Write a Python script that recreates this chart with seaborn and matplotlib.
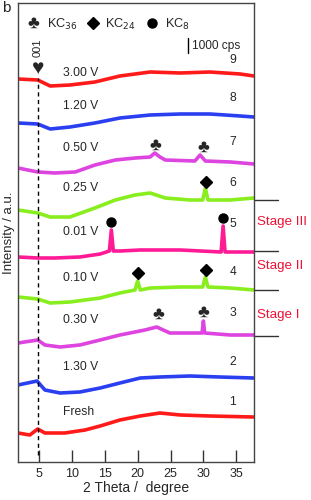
import pandas as pd
import seaborn as sns
import matplotlib.pyplot as plt
import matplotlib.transforms as mtransforms

# XRD patterns, stacked (intensity already offset, a.u.)
curve_ids = ["1", "2", "3", "4", "5", "6", "7", "8", "9"]
curve_labels = ["Fresh", "1.30 V", "0.30 V", "0.10 V", "0.01 V", "0.25 V", "0.50 V", "1.20 V", "3.00 V"]
curve_colors = ["#ff1a1a", "#2a3ff0", "#dd44e0", "#88ee1e", "#ff1a96",
                "#88ee1e", "#dd44e0", "#2a3ff0", "#ff1a1a"]

theta_1 = [1.8, 3.6, 4.8, 5.9, 8.9, 12.0, 14.3, 17.3, 20.4, 23.4, 26.5, 31.0, 37.6]
inten_1 = [29, 27, 33, 29, 29, 32, 36, 42, 46, 49, 47, 46, 45]

theta_2 = [1.8, 4.7, 5.9, 8.2, 11.2, 14.3, 17.3, 20.4, 23.4, 28.0, 32.5, 37.6]
inten_2 = [77, 81, 72, 69, 70, 74, 79, 84, 85, 86, 85, 84]

theta_3 = [1.8, 4.8, 5.9, 8.2, 11.2, 14.3, 17.3, 21.1, 22.9, 24.9, 28.0, 29.8, 30.0, 30.2, 34.1, 37.7]
inten_3 = [119, 122, 117, 115, 117, 122, 127, 132, 135, 129, 129, 129, 141, 129, 127, 127]

theta_4 = [1.8, 4.8, 6.7, 9.7, 14.3, 17.3, 19.6, 20.0, 20.4, 21.9, 26.5, 29.9, 30.3, 30.7, 34.1, 37.7]
inten_4 = [165, 163, 159, 160, 164, 169, 172, 181, 172, 174, 175, 175, 185, 175, 174, 172]

theta_5 = [1.8, 4.8, 7.4, 11.2, 14.3, 15.7, 16.0, 16.3, 17.3, 20.4, 26.5, 32.7, 33.0, 33.3, 35.6, 37.7]
inten_5 = [205, 204, 204, 205, 208, 211, 232, 211, 211, 212, 212, 210, 236, 210, 210, 210]

theta_6 = [1.8, 4.8, 6.7, 9.7, 13.5, 16.6, 19.6, 21.9, 24.2, 28.0, 29.9, 30.3, 30.7, 34.1, 37.7]
inten_6 = [252, 249, 245, 245, 254, 262, 267, 269, 264, 262, 262, 274, 262, 262, 264]

theta_7 = [1.8, 4.8, 7.4, 10.5, 13.5, 16.6, 19.6, 21.9, 22.6, 23.4, 24.2, 28.7, 29.5, 30.3, 34.1, 37.7]
inten_7 = [294, 290, 289, 290, 297, 302, 304, 305, 309, 305, 302, 301, 307, 301, 300, 298]

theta_8 = [1.8, 4.8, 6.7, 9.7, 13.5, 17.3, 21.9, 26.5, 31.0, 35.6, 37.7]
inten_8 = [339, 338, 333, 335, 339, 344, 347, 348, 348, 346, 345]

theta_9 = [1.8, 4.8, 6.7, 9.7, 13.5, 17.3, 21.9, 26.5, 31.0, 35.6, 37.7]
inten_9 = [383, 382, 376, 377, 380, 386, 390, 389, 390, 388, 386]

label_y = [50, 95, 142, 184, 230, 274, 314, 356, 389]
number_y = [60, 100, 149, 190, 238, 279, 320, 364, 402]

# peak markers: (2theta, height)
club_peaks = [(22.7, 317), (30.0, 315), (23.1, 148), (30.0, 150)]
diamond_peaks = [(30.4, 280), (20.1, 189), (30.4, 192)]
circle_peaks = [(16.0, 240), (33.0, 244)]

stage_lines = [262, 211, 172, 126]
stage_names = ["Stage III", "Stage II", "Stage I"]
stage_y = [240, 196, 147]

x_ticks = [5, 10, 15, 20, 25, 30, 35]

thetas = [theta_1, theta_2, theta_3, theta_4, theta_5, theta_6, theta_7, theta_8, theta_9]
intens = [inten_1, inten_2, inten_3, inten_4, inten_5, inten_6, inten_7, inten_8, inten_9]
frames = []
for cid, t, i in zip(curve_ids, thetas, intens):
    frames.append(pd.DataFrame({"theta": t, "intensity": i, "curve": cid}))
df = pd.concat(frames, ignore_index=True)

sns.set_style("ticks")
plt.rcParams["font.family"] = ["Liberation Sans", "DejaVu Sans"]

fig = plt.figure(figsize=(3.11, 5.0), dpi=100)
ax = fig.add_axes([18 / 311, 38 / 500, 236 / 311, 459 / 500])

sns.lineplot(data=df, x="theta", y="intensity", hue="curve",
             palette=dict(zip(curve_ids, curve_colors)), lw=2.6,
             legend=False, ax=ax, estimator=None, sort=False)

ax.set_xlim(1.8, 37.7)
ax.set_ylim(0, 459)
ax.set_xticks(x_ticks)
ax.set_yticks([])
ax.tick_params(axis="x", direction="in", length=9, width=1, color="#333333",
               labelsize=9, pad=4)
for sp in ax.spines.values():
    sp.set_color("#444444")
    sp.set_linewidth(1)
ax.set_xlabel("2 Theta /  degree", fontsize=10, labelpad=1)
ax.set_ylabel("Intensity / a.u.", fontsize=9.5, labelpad=2)

# dashed 001 line
ax.plot([4.9, 4.9], [7, 384], ls=(0, (3, 2.5)), color="black", lw=1)
ax.text(4.85, 394, "\u2665", fontsize=15, ha="center", va="center")
ax.text(4.85, 414, "001", fontsize=8, rotation=90, ha="center", va="center")

for lab, y in zip(curve_labels, label_y):
    ax.text(8.6, y, lab, fontsize=8.7, ha="left", va="center")
for num, y in zip(curve_ids, number_y):
    ax.text(34.5, y, num, fontsize=8.7, ha="center", va="center")

for x, y in club_peaks:
    ax.text(x, y, "\u2663", fontsize=13, ha="center", va="center")
ax.plot([p[0] for p in diamond_peaks], [p[1] for p in diamond_peaks],
        ls="none", marker="D", ms=6.5, color="black")
ax.plot([p[0] for p in circle_peaks], [p[1] for p in circle_peaks],
        ls="none", marker="o", ms=6.5, color="black")

# legend row
ax.text(4.1, 439, "\u2663", fontsize=13, ha="center", va="center")
ax.text(6.2, 438, "KC$_{36}$", fontsize=9.2, ha="left", va="center")
ax.plot([13.2], [439], ls="none", marker="D", ms=6.5, color="black")
ax.text(15.0, 438, "KC$_{24}$", fontsize=9.2, ha="left", va="center")
ax.plot([22.2], [439], ls="none", marker="o", ms=6.5, color="black")
ax.text(24.2, 438, "KC$_{8}$", fontsize=9.2, ha="left", va="center")

# scale bar
ax.plot([27.7, 27.7], [409, 424], color="black", lw=1)
ax.text(28.3, 416, "1000 cps", fontsize=8.6, ha="left", va="center")

# stage markers outside right edge
trans = mtransforms.blended_transform_factory(ax.transAxes, ax.transData)
for y in stage_lines:
    ax.plot([1.0, 1.1], [y, y], color="#333333", lw=1, transform=trans, clip_on=False)
for name, y in zip(stage_names, stage_y):
    ax.text(1.013, y, name, color="#ee1133", fontsize=9.6, ha="left", va="center",
            transform=trans)

fig.text(2 / 311, 1 - 8 / 500, "b", fontsize=11, ha="left", va="center")

plt.savefig("out.png", dpi=100)
plt.close()
